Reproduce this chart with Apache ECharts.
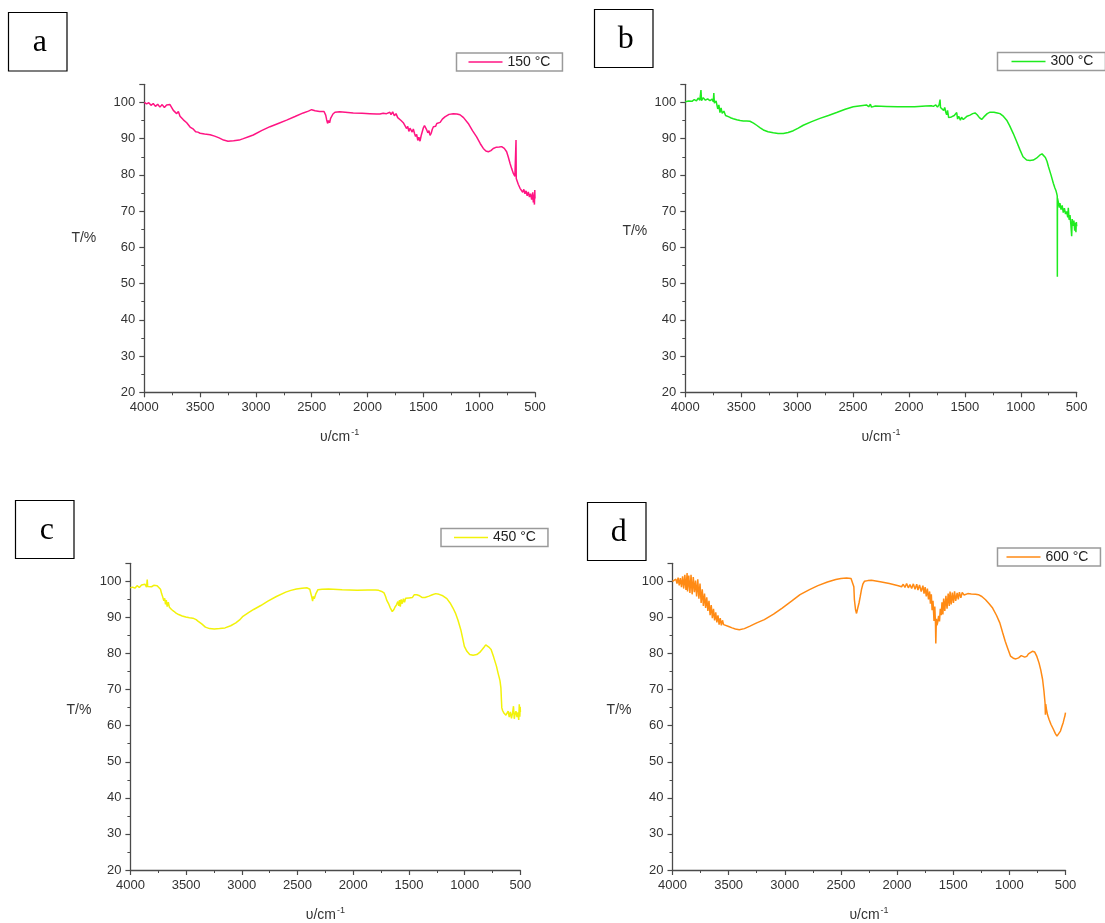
<!DOCTYPE html>
<html>
<head>
<meta charset="utf-8">
<script src="https://cdn.jsdelivr.net/npm/echarts@6/dist/echarts.min.js"></script>
<style>
html,body{margin:0;padding:0;background:#fff;}
#chart{width:1105px;height:923px;}
</style>
</head>
<body>
<div id="chart"></div>
<script>
// ---- data: [wavenumber (cm^-1), transmittance (%)] ----
const seriesNames = ['150 °C', '300 °C', '450 °C', '600 °C'];
const panelLetters = ['a', 'b', 'c', 'd'];
const xTicks = { min: 500, max: 4000, interval: 500 };
const yTicks = { min: 20, max: 105, interval: 10 };

const specA = [[4000,100],[3980,99.6],[3960,99.9],[3940,99.2],[3920,99.7],[3900,98.9],[3880,99.5],[3860,98.7],[3840,99.4],[3820,98.6],[3800,99.3],[3785,98.8],[3770,99.4],[3755,98.9],[3740,97.8],[3725,98.3],[3710,96.9],[3695,97.5],[3680,96.2],[3665,96.6],[3650,95.2],[3635,95.6],[3620,94.4],[3605,94.2],[3590,93.2],[3576,92.8],[3560,92.6],[3540,91.9],[3520,91.8],[3500,91.5],[3460,91.3],[3410,91.1],[3370,90.7],[3330,90.2],[3290,89.6],[3250,89.3],[3200,89.4],[3150,89.6],[3113,90.0],[3060,90.6],[3024,91.0],[2950,92.2],[2874,93.3],[2800,94.2],[2725,95.1],[2650,96.1],[2576,97.1],[2530,97.6],[2501,98.0],[2470,97.7],[2430,97.5],[2390,97.5],[2375,96.5],[2367,95.3],[2358,94.2],[2350,95.0],[2340,94.4],[2331,95.6],[2310,96.8],[2292,97.3],[2250,97.4],[2200,97.3],[2128,97.1],[2050,97.0],[1980,96.9],[1920,96.8],[1889,96.8],[1860,97.0],[1830,96.9],[1800,97.3],[1790,96.6],[1775,97.4],[1760,96.3],[1745,96.9],[1730,95.8],[1715,96.2],[1700,95.0],[1690,95.4],[1680,94.4],[1665,94.0],[1650,92.8],[1640,93.4],[1630,92.0],[1620,92.9],[1610,92.6],[1600,91.8],[1590,92.7],[1580,91.5],[1570,90.6],[1560,91.2],[1550,89.5],[1540,90.4],[1530,89.3],[1520,90.8],[1510,91.9],[1500,93.0],[1490,93.6],[1480,93.2],[1470,92.4],[1460,91.6],[1450,92.2],[1440,90.9],[1430,91.5],[1420,92.6],[1410,93.3],[1400,93.8],[1390,93.4],[1380,94.2],[1370,93.8],[1350,94.5],[1330,95.4],[1307,96.0],[1270,96.7],[1232,96.9],[1200,96.8],[1172,96.6],[1140,95.8],[1098,94.2],[1060,92.2],[1023,90.5],[990,88.6],[963,87.3],[940,86.6],[918,86.4],[895,86.7],[874,87.3],[850,87.6],[820,87.7],[799,87.8],[775,87.3],[754,86.4],[740,85.0],[724,83.2],[710,81.8],[694,80.4],[680,79.6],[672,79.3],[670,89.6],[668,79.0],[664,78.8],[650,77.4],[634,76.3],[620,75.9],[610,75.2],[600,76.0],[590,74.8],[580,75.6],[570,74.2],[560,75.3],[550,73.9],[540,74.8],[530,73.2],[520,75.2],[515,72.4],[510,74.6],[505,71.8],[502,75.8],[500,73.5]];

const specB = [[4000,100.2],[3970,100.4],[3940,100.3],[3920,100.8],[3900,100.4],[3885,101.2],[3870,100.6],[3860,103.4],[3855,100.5],[3840,101.3],[3820,100.6],[3800,101.0],[3780,100.5],[3760,100.9],[3750,100.2],[3745,102.6],[3740,99.8],[3725,100.4],[3710,98.2],[3700,99.3],[3690,97.2],[3680,98.5],[3670,97.0],[3655,97.6],[3640,96.4],[3630,96.7],[3610,96.0],[3590,95.7],[3571,95.5],[3540,95.2],[3510,95.0],[3481,94.9],[3450,94.9],[3422,94.8],[3390,94.3],[3362,93.7],[3330,93.0],[3302,92.4],[3260,91.9],[3213,91.6],[3170,91.4],[3124,91.4],[3080,91.7],[3034,92.2],[2990,92.9],[2945,93.7],[2870,94.7],[2796,95.6],[2720,96.4],[2647,97.2],[2570,98.1],[2498,98.8],[2430,99.1],[2380,99.3],[2360,98.8],[2345,99.5],[2335,98.7],[2320,99.2],[2300,99.0],[2200,98.9],[2100,98.8],[2050,98.8],[1950,98.8],[1850,99.0],[1800,99.1],[1782,98.9],[1760,99.3],[1745,98.7],[1730,99.4],[1722,100.8],[1718,98.6],[1705,99.0],[1690,97.8],[1680,98.6],[1670,97.2],[1663,96.6],[1655,97.8],[1645,95.8],[1633,95.3],[1620,96.0],[1605,95.6],[1595,96.4],[1585,95.9],[1573,97.2],[1565,95.4],[1555,96.2],[1540,95.1],[1530,95.9],[1514,95.3],[1500,95.8],[1480,96.2],[1454,96.5],[1430,96.9],[1409,97.1],[1390,96.6],[1370,95.8],[1350,95.3],[1330,96.0],[1300,96.9],[1275,97.3],[1240,97.3],[1210,97.1],[1186,96.9],[1160,96.3],[1126,95.1],[1100,93.6],[1067,91.4],[1040,89.4],[1007,86.9],[980,85.0],[948,84.1],[918,84.0],[888,84.1],[860,84.6],[828,85.5],[810,85.8],[798,85.7],[780,84.8],[765,83.7],[753,82.3],[730,80.0],[709,77.7],[695,76.4],[685,75.6],[679,74.9],[674,74.2],[673,51.9],[672,73.6],[665,72.6],[655,71.0],[650,72.2],[640,70.4],[630,71.6],[620,69.6],[610,70.8],[600,69.2],[590,69.9],[580,68.3],[575,70.9],[568,67.6],[560,68.9],[552,66.2],[545,63.1],[540,67.8],[532,65.9],[525,67.4],[518,64.6],[512,66.8],[507,64.2],[503,67.0],[500,65.8]];

const specC = [[4000,98.2],[3980,98.4],[3960,98.1],[3940,98.8],[3920,98.3],[3900,99.0],[3888,98.5],[3870,99.2],[3855,98.4],[3849,100.5],[3845,98.6],[3830,99.1],[3810,98.5],[3790,98.9],[3775,98.4],[3760,98.8],[3744,99.1],[3730,97.8],[3720,96.6],[3712,95.9],[3700,94.6],[3692,95.3],[3685,93.6],[3678,94.8],[3670,93.0],[3660,94.2],[3650,92.8],[3640,93.3],[3631,92.2],[3610,91.7],[3590,91.2],[3567,90.8],[3535,90.4],[3503,90.1],[3470,89.9],[3439,89.8],[3410,89.4],[3391,88.9],[3360,88.2],[3327,87.3],[3290,86.9],[3247,86.8],[3200,86.9],[3151,87.1],[3100,87.7],[3054,88.5],[3020,89.3],[2990,90.3],[2940,91.3],[2894,92.2],[2830,93.3],[2766,94.5],[2690,95.8],[2606,97.0],[2560,97.5],[2510,97.9],[2460,98.1],[2414,98.2],[2390,97.8],[2382,97.5],[2372,95.6],[2365,94.5],[2358,95.8],[2350,95.2],[2335,96.6],[2317,97.7],[2280,97.8],[2221,97.9],[2100,97.7],[1965,97.5],[1870,97.6],[1800,97.6],[1772,97.5],[1745,97.2],[1724,96.8],[1710,95.8],[1700,94.8],[1692,94.5],[1680,93.6],[1670,92.8],[1660,92.3],[1650,91.6],[1644,91.2],[1635,92.2],[1625,92.9],[1612,93.5],[1600,94.4],[1592,93.2],[1585,94.8],[1578,93.0],[1570,95.0],[1560,93.8],[1550,95.2],[1540,94.2],[1530,95.3],[1516,94.9],[1500,95.4],[1485,95.8],[1470,95.5],[1452,96.3],[1430,96.3],[1404,96.0],[1380,95.5],[1356,95.5],[1320,95.9],[1290,96.3],[1260,96.6],[1230,96.4],[1196,96.0],[1160,95.2],[1131,94.0],[1105,92.6],[1083,91.2],[1060,89.2],[1035,86.6],[1018,84.2],[1003,82.0],[980,80.6],[955,79.7],[925,79.5],[891,79.7],[865,80.3],[843,81.1],[825,81.8],[811,82.4],[795,82.2],[780,81.7],[763,81.1],[740,79.0],[715,76.5],[700,74.5],[690,73.3],[683,72.4],[675,70.5],[670,67.0],[667,65.0],[660,64.2],[650,63.6],[640,64.1],[630,62.9],[619,63.1],[610,64.0],[600,62.4],[590,63.8],[580,62.0],[570,63.6],[562,65.4],[555,61.9],[548,63.2],[540,64.0],[530,62.4],[522,63.7],[515,61.6],[510,65.9],[505,62.5],[502,65.2],[500,63.8]];

const specD = [[4000,100],[3985,99.8],[3970,100.6],[3960,99.4],[3950,101.0],[3940,98.9],[3930,100.9],[3920,98.4],[3910,101.4],[3900,98.0],[3890,101.8],[3880,97.6],[3870,102.3],[3866,97.2],[3855,101.6],[3845,96.8],[3835,101.8],[3825,96.4],[3815,101.2],[3805,97.0],[3795,100.2],[3785,95.8],[3775,100.6],[3765,95.2],[3755,99.4],[3745,94.0],[3735,97.8],[3725,93.2],[3715,96.6],[3705,92.6],[3695,95.6],[3685,91.8],[3675,94.6],[3665,90.6],[3655,93.4],[3645,89.8],[3635,92.4],[3625,89.2],[3615,91.4],[3605,88.6],[3595,90.6],[3585,88.0],[3575,89.8],[3565,87.8],[3555,89.2],[3545,88.0],[3532,88.0],[3500,87.5],[3469,87.1],[3440,86.8],[3405,86.6],[3360,86.9],[3310,87.6],[3250,88.5],[3182,89.4],[3100,90.9],[3023,92.6],[2940,94.5],[2864,96.3],[2780,97.7],[2705,98.8],[2620,99.8],[2546,100.5],[2500,100.8],[2450,100.9],[2410,100.8],[2393,100.8],[2385,98.5],[2380,94.9],[2370,92.2],[2361,91.1],[2350,92.6],[2339,94.0],[2328,95.8],[2317,97.7],[2305,99.2],[2291,100.0],[2260,100.2],[2228,100.3],[2150,99.9],[2069,99.4],[1989,98.8],[1975,99.3],[1960,98.5],[1945,99.2],[1930,98.3],[1915,99.4],[1900,98.2],[1885,99.1],[1870,98.0],[1855,99.3],[1840,97.8],[1825,99.2],[1814,97.6],[1800,99.0],[1785,97.2],[1770,98.8],[1760,96.6],[1750,98.4],[1740,95.8],[1730,98.0],[1720,95.0],[1710,97.2],[1703,93.8],[1695,96.4],[1688,92.0],[1680,94.6],[1671,89.0],[1664,93.0],[1658,88.4],[1655,82.8],[1650,89.6],[1645,87.8],[1639,88.5],[1630,90.4],[1622,88.9],[1615,92.4],[1607,90.6],[1600,94.2],[1592,90.8],[1585,95.2],[1575,91.8],[1565,96.0],[1555,92.4],[1545,96.6],[1535,93.2],[1528,97.2],[1518,93.6],[1508,96.9],[1498,94.0],[1488,97.2],[1478,94.6],[1465,96.8],[1455,95.0],[1445,97.0],[1432,95.4],[1420,96.9],[1403,96.2],[1370,96.6],[1339,96.5],[1300,96.4],[1276,96.3],[1245,95.8],[1212,94.9],[1180,93.8],[1149,92.6],[1115,90.6],[1085,88.5],[1060,85.8],[1037,83.4],[1012,81.2],[990,79.3],[965,78.7],[942,78.5],[918,78.8],[894,79.4],[878,79.6],[863,79.0],[845,79.2],[830,79.9],[815,80.4],[795,80.6],[774,80.4],[755,79.2],[736,77.4],[720,75.4],[704,72.8],[692,69.6],[682,66.2],[679,63.0],[676,66.0],[670,64.6],[660,63.0],[647,61.8],[630,60.4],[608,59.0],[590,57.8],[576,57.1],[560,57.6],[545,58.5],[530,60.0],[520,60.9],[513,61.8],[506,62.6],[500,63.6]];

const spectra = [specA, specB, specC, specD];

// ---- layout / style (kept separate from data) ----
const colors = ['#FF1483', '#1EEB1E', '#F2F20A', '#FF8A14'];
const grids = [
  { left: 144.3, top: 84.3, width: 390.7, height: 308 },
  { left: 685.3, top: 84.3, width: 391.4, height: 308 },
  { left: 130.4, top: 563.3, width: 390, height: 307.7 },
  { left: 672.5, top: 563.3, width: 393, height: 307.7 }
];
const yNameGap = [48, 38, 39, 41];
const yNameAlign = ['middle', 'bottom', 'bottom', 'bottom'];
const legendPos = [
  { left: 456.5, top: 53, padL: 12 },
  { left: 997.5, top: 52.5, padL: 14 },
  { left: 441, top: 528.5, padL: 13 },
  { left: 997.5, top: 548, padL: 9 }
];
const letterBoxes = [
  { x: 8.5, y: 12.5, w: 58.5, h: 58.5 },
  { x: 594.5, y: 9.5, w: 58.5, h: 58 },
  { x: 15.5, y: 500.5, w: 58.5, h: 58 },
  { x: 587.5, y: 502.5, w: 58.5, h: 58 }
];

const FONT = '"Liberation Sans", Arial, sans-serif';
const axisColor = '#4a4a4a';

const option = {
  animation: false,
  backgroundColor: '#fff',
  grid: grids.map(g => Object.assign({ containLabel: false }, g)),
  xAxis: grids.map((g, i) => ({
    type: 'value', gridIndex: i, inverse: true,
    min: xTicks.min, max: xTicks.max, interval: xTicks.interval,
    axisLine: { show: true, onZero: false, lineStyle: { color: axisColor, width: 1.3 } },
    axisTick: { show: true, length: 5, lineStyle: { color: axisColor, width: 1.2 } },
    minorTick: { show: true, splitNumber: 2, length: 3, lineStyle: { color: axisColor, width: 1 } },
    splitLine: { show: false },
    axisLabel: { color: '#333', fontSize: 13, fontFamily: FONT, margin: 9, formatter: v => String(v) },
    name: '{n|υ/cm}{s|-1}',
    nameLocation: 'middle', nameGap: 36,
    nameTextStyle: {
      rich: {
        n: { fontSize: 14, fontFamily: FONT, color: '#333', lineHeight: 18 },
        s: { fontSize: 9, fontFamily: FONT, color: '#333', verticalAlign: 'top', lineHeight: 18, padding: [0, 0, 0, 1] }
      }
    }
  })),
  yAxis: grids.map((g, i) => ({
    type: 'value', gridIndex: i,
    min: yTicks.min, max: yTicks.max, interval: yTicks.interval,
    axisLine: { show: true, onZero: false, lineStyle: { color: axisColor, width: 1.3 } },
    axisTick: { show: true, length: 5, lineStyle: { color: axisColor, width: 1.2 } },
    minorTick: { show: true, splitNumber: 2, length: 3, lineStyle: { color: axisColor, width: 1 } },
    splitLine: { show: false },
    axisLabel: {
      color: '#333', fontSize: 13, fontFamily: FONT, margin: 9,
      formatter: v => (v > 100 ? '' : String(v))
    },
    name: 'T/%', nameLocation: 'middle', nameRotate: 0, nameGap: yNameGap[i],
    nameTextStyle: { color: '#333', fontSize: 14, fontFamily: FONT, verticalAlign: yNameAlign[i] }
  })),
  legend: legendPos.map((p, i) => ({
    data: [seriesNames[i]],
    left: p.left, top: p.top,
    orient: 'horizontal',
    icon: 'rect', itemWidth: 34, itemHeight: 1.5,
    borderColor: '#9a9a9a', borderWidth: 1.5,
    padding: [2, 12, 2, p.padL],
    textStyle: { fontSize: 14, fontFamily: FONT, color: '#222', padding: [1, 0, 0, 0] },
    selectedMode: false
  })),
  graphic: letterBoxes.map((b, i) => ({
    type: 'group',
    children: [
      { type: 'rect', shape: { x: b.x, y: b.y, width: b.w, height: b.h },
        style: { fill: '#fff', stroke: '#000', lineWidth: 1.2 } },
      { type: 'text', x: b.x + b.w / 2 + 2, y: b.y + b.h / 2 + 1,
        style: { text: panelLetters[i], font: '32px "Liberation Serif", "Times New Roman", serif',
          fill: '#000', align: 'center', verticalAlign: 'middle' } }
    ]
  })),
  series: spectra.map((d, i) => ({
    name: seriesNames[i], type: 'line',
    xAxisIndex: i, yAxisIndex: i,
    data: d, showSymbol: false, symbol: 'none',
    sampling: null, clip: true,
    lineStyle: { color: colors[i], width: 1.5 },
    itemStyle: { color: colors[i] }
  }))
};

const chart = echarts.init(document.getElementById('chart'), null, { renderer: 'canvas' });
chart.setOption(option);
</script>
</body>
</html>
